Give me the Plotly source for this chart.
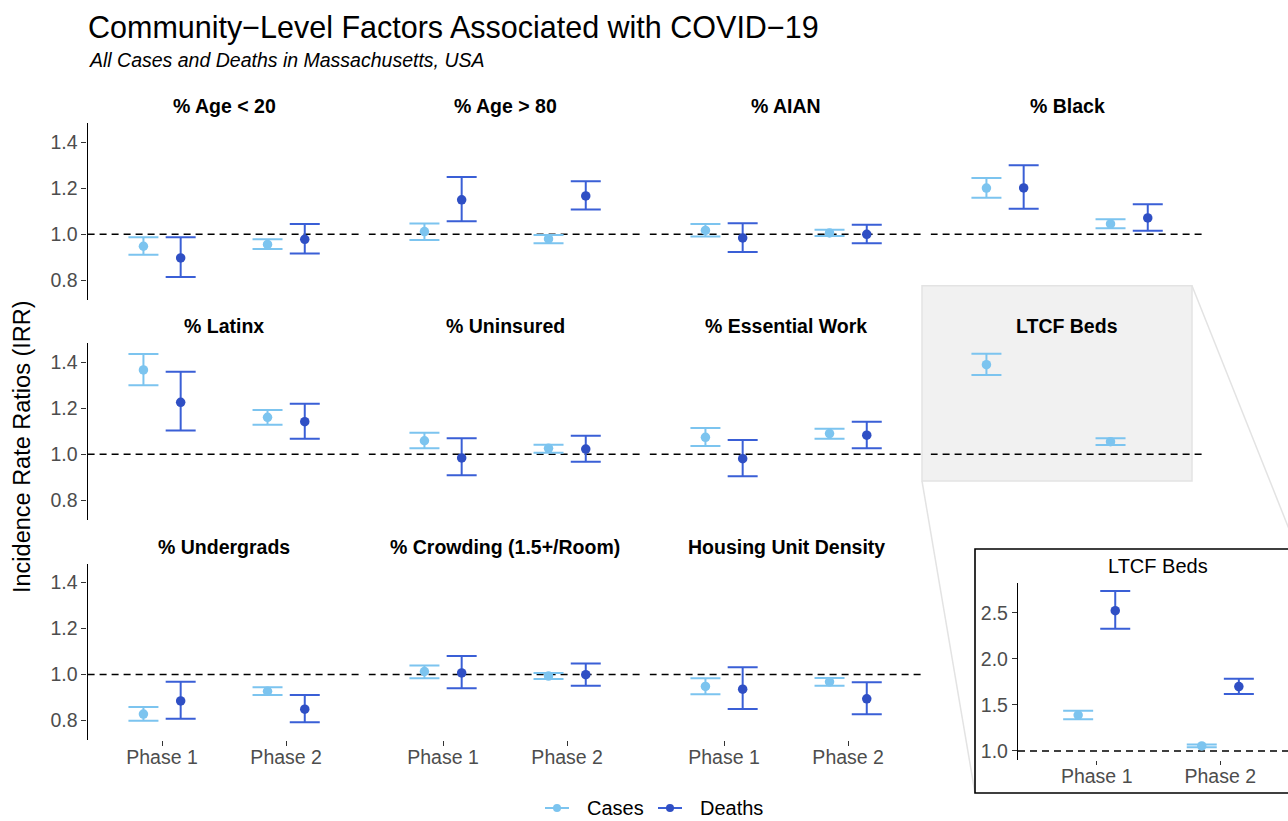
import plotly.graph_objects as go

# ---------------- data ----------------
factors = ["% Age < 20", "% Age > 80", "% AIAN", "% Black",
           "% Latinx", "% Uninsured", "% Essential Work", "LTCF Beds",
           "% Undergrads", "% Crowding (1.5+/Room)", "Housing Unit Density"]
phases = ["Phase 1", "Phase 2"]
series_names = ["Cases", "Deaths"]

cases_irr = [[0.948, 0.956], [1.012, 0.980], [1.017, 1.006], [1.201, 1.045],
             [1.367, 1.161], [1.059, 1.026], [1.074, 1.090], [1.390, 1.055],
             [0.828, 0.927], [1.013, 0.993], [0.948, 0.968]]
cases_lo = [[0.911, 0.936], [0.975, 0.961], [0.990, 0.993], [1.159, 1.026],
            [1.300, 1.129], [1.026, 1.007], [1.036, 1.068], [1.345, 1.040],
            [0.799, 0.911], [0.984, 0.980], [0.914, 0.951]]
cases_hi = [[0.987, 0.978], [1.047, 0.997], [1.045, 1.020], [1.245, 1.065],
            [1.436, 1.193], [1.094, 1.042], [1.114, 1.111], [1.438, 1.070],
            [0.859, 0.945], [1.039, 1.006], [0.984, 0.985]]

deaths_irr = [[0.897, 0.978], [1.150, 1.167], [0.984, 1.000], [1.202, 1.071],
              [1.226, 1.142], [0.984, 1.023], [0.981, 1.083], [2.525, 1.700],
              [0.885, 0.849], [1.007, 0.999], [0.936, 0.894]]
deaths_lo = [[0.814, 0.917], [1.057, 1.108], [0.923, 0.961], [1.111, 1.015],
             [1.104, 1.068], [0.909, 0.968], [0.904, 1.026], [2.330, 1.620],
             [0.808, 0.792], [0.940, 0.951], [0.850, 0.827]]
deaths_hi = [[0.987, 1.045], [1.249, 1.231], [1.048, 1.042], [1.301, 1.131],
             [1.359, 1.220], [1.070, 1.081], [1.062, 1.142], [2.740, 1.786],
             [0.969, 0.911], [1.080, 1.048], [1.032, 0.966]]

inset_factor = "LTCF Beds"
inset_ticks = [1.0, 1.5, 2.0, 2.5]
main_ticks = [0.8, 1.0, 1.2, 1.4]

# ---------------- styling / layout ----------------
W, H = 1288, 821
CASE_COL = "#7cc4ef"
DEATH_COL = "#3a5fd6"
DEATH_PT = "#2f4fc4"
FONT = "Liberation Sans, Arial, sans-serif"
TICK_COL = "#4d4d4d"

col_left = [87.6, 368.6, 649.6, 930.6]
panel_w = 273.0
row_top = [123.3, 343.3, 563.5]
panel_h = 176.5
yrange = [0.715, 1.483]
xrange_ = [0.4, 2.6]
dodge = 0.15


def px(x):
    return x / W


def py(y):
    return 1 - y / H


fig = go.Figure()
layout = dict(shapes=[], annotations=[])

# highlight rectangle + connectors + inset frame (paper shapes, drawn first)
layout["shapes"].append(dict(type="rect", xref="paper", yref="paper",
                             x0=px(922), x1=px(1192), y0=py(481), y1=py(285.7),
                             fillcolor="rgba(0,0,0,0.055)",
                             line=dict(color="#e3e3e3", width=1.5), layer="below"))
layout["shapes"].append(dict(type="line", xref="paper", yref="paper",
                             x0=px(1192), y0=py(285.7), x1=px(1297), y1=py(549),
                             line=dict(color="#e3e3e3", width=1.5), layer="below"))
layout["shapes"].append(dict(type="line", xref="paper", yref="paper",
                             x0=px(922), y0=py(481), x1=px(975), y1=py(793),
                             line=dict(color="#e3e3e3", width=1.5), layer="below"))
layout["shapes"].append(dict(type="rect", xref="paper", yref="paper",
                             x0=px(975), x1=px(1300), y0=py(793), y1=py(549),
                             fillcolor="white",
                             line=dict(color="black", width=1.6), layer="below"))


def add_panel(n, xl, xr, yt, yb, xr_range, yr_range, yticks, show_y, show_x):
    ax = "xaxis" if n == 1 else f"xaxis{n}"
    ay = "yaxis" if n == 1 else f"yaxis{n}"
    xa = "x" if n == 1 else f"x{n}"
    ya = "y" if n == 1 else f"y{n}"
    layout[ax] = dict(domain=[px(xl), px(xr)], range=xr_range, anchor=ya,
                      showgrid=False, zeroline=False, showline=False,
                      tickmode="array", tickvals=[1, 2], ticktext=phases,
                      showticklabels=show_x,
                      ticks="outside" if show_x else "", ticklen=5, tickwidth=1.2,
                      tickcolor="#333333", ticklabelstandoff=-5,
                      tickfont=dict(family=FONT, size=19.5, color=TICK_COL))
    layout[ay] = dict(domain=[py(yb), py(yt)], range=yr_range, anchor=xa,
                      showgrid=False, zeroline=False,
                      showline=show_y, linecolor="black", linewidth=1.4,
                      tickmode="array", tickvals=yticks,
                      ticktext=[f"{v:.1f}" for v in yticks],
                      showticklabels=show_y,
                      ticks="outside" if show_y else "", ticklen=5, tickwidth=1.2,
                      tickcolor="#333333",
                      tickfont=dict(family=FONT, size=19.5, color=TICK_COL))
    layout["shapes"].append(dict(type="line", xref=xa, yref=ya,
                                 x0=xr_range[0], x1=xr_range[1], y0=1.0, y1=1.0,
                                 line=dict(color="black", width=1.6, dash="7px,5px"),
                                 layer="below"))
    return xa, ya


def add_points(i, xa, ya):
    xs = [1, 2]
    fig.add_trace(go.Scatter(
        x=[v - dodge for v in xs], y=cases_irr[i], xaxis=xa, yaxis=ya,
        mode="markers", marker=dict(color=CASE_COL, size=9.5), name=series_names[0],
        error_y=dict(type="data", symmetric=False,
                     array=[h - e for h, e in zip(cases_hi[i], cases_irr[i])],
                     arrayminus=[e - l for e, l in zip(cases_irr[i], cases_lo[i])],
                     color=CASE_COL, thickness=2, width=15),
        showlegend=False, hoverinfo="skip"))
    fig.add_trace(go.Scatter(
        x=[v + dodge for v in xs], y=deaths_irr[i], xaxis=xa, yaxis=ya,
        mode="markers", marker=dict(color=DEATH_PT, size=9.5), name=series_names[1],
        error_y=dict(type="data", symmetric=False,
                     array=[h - e for h, e in zip(deaths_hi[i], deaths_irr[i])],
                     arrayminus=[e - l for e, l in zip(deaths_irr[i], deaths_lo[i])],
                     color=DEATH_COL, thickness=2, width=15),
        showlegend=False, hoverinfo="skip"))


for i, name in enumerate(factors):
    r, c = divmod(i, 4)
    xl = col_left[c]
    xr = xl + panel_w
    yt = row_top[r]
    yb = yt + panel_h
    show_x = (r == 2)
    show_y = (c == 0)
    xa, ya = add_panel(i + 1, xl, xr, yt, yb, xrange_, yrange, main_ticks, show_y, show_x)
    add_points(i, xa, ya)
    layout["annotations"].append(dict(
        text=name, xref="paper", yref="paper", x=px((xl + xr) / 2), y=py(yt - 17),
        xanchor="center", yanchor="middle", showarrow=False,
        font=dict(family=FONT, size=19.5, color="black", weight=600)))

# inset panel
k = factors.index(inset_factor)
n_in = len(factors) + 1
in_left, in_right = 1018.0, 1288.0
unit = 123.6
in_xr = [1 - (1096.7 - in_left) / unit, 1 + (in_right - 1096.7) / unit]
xa, ya = add_panel(n_in, in_left, in_right, 583.0, 760.0, in_xr, [0.902, 2.826],
                   inset_ticks, True, True)
layout["xaxis%d" % n_in]["ticklen"] = 4
add_points(k, xa, ya)
layout["annotations"].append(dict(
    text=inset_factor, xref="paper", yref="paper", x=px(1158), y=py(566),
    xanchor="center", yanchor="middle", showarrow=False,
    font=dict(family=FONT, size=20, color="black")))

# bottom legend (drawn as key marks + text so it stays inside the page)
legend_y = 808
legend_items = [(series_names[0], CASE_COL, CASE_COL, 545, 586),
                (series_names[1], DEATH_COL, DEATH_PT, 658, 699)]
for label, lcol, pcol, sx, tx in legend_items:
    layout["shapes"].append(dict(type="line", xref="paper", yref="paper",
                                 x0=px(sx), x1=px(sx + 24), y0=py(legend_y), y1=py(legend_y),
                                 line=dict(color=lcol, width=2)))
    layout["shapes"].append(dict(type="circle", xref="paper", yref="paper",
                                 x0=px(sx + 12 - 4), x1=px(sx + 12 + 4),
                                 y0=py(legend_y + 4), y1=py(legend_y - 4),
                                 fillcolor=pcol, line=dict(color=pcol, width=0)))
    layout["annotations"].append(dict(
        text=label, xref="paper", yref="paper", x=px(tx), y=py(legend_y),
        xanchor="left", yanchor="middle", showarrow=False, borderpad=0,
        font=dict(family=FONT, size=20, color="black")))

# titles
layout["annotations"].append(dict(
    text="Community\u2212Level Factors Associated with COVID\u221219",
    xref="paper", yref="paper", x=px(86), y=py(27), xanchor="left", yanchor="middle",
    showarrow=False, font=dict(family=FONT, size=30.5, color="black")))
layout["annotations"].append(dict(
    text="<i>All Cases and Deaths in Massachusetts, USA</i>",
    xref="paper", yref="paper", x=px(87), y=py(60), xanchor="left", yanchor="middle",
    showarrow=False, font=dict(family=FONT, size=19.5, color="black")))
layout["annotations"].append(dict(
    text="Incidence Rate Ratios (IRR)", xref="paper", yref="paper",
    x=px(22), y=py(447), xanchor="center", yanchor="middle", textangle=-90,
    showarrow=False, font=dict(family=FONT, size=23.5, color="black")))

fig.update_layout(
    width=W, height=H, margin=dict(l=0, r=0, t=0, b=0, autoexpand=False),
    paper_bgcolor="white", plot_bgcolor="rgba(0,0,0,0)",
    font=dict(family=FONT),
    showlegend=False,
    **layout)

fig.write_html("out.html", config={"displayModeBar": False},
               post_script="document.body.style.margin='0px';"
                           "document.body.style.overflow='hidden';")
